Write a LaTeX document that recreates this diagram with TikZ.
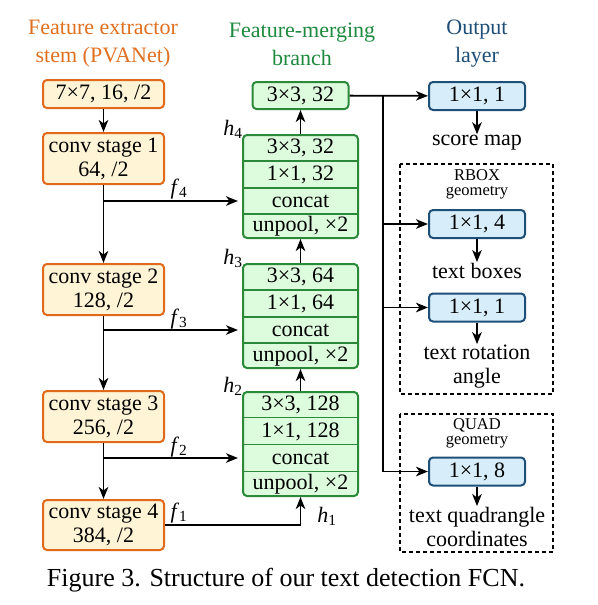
\documentclass[tikz,border=0pt]{standalone}
\usepackage{fontspec}
\setmainfont{Liberation Serif}
\usetikzlibrary{arrows.meta}
\definecolor{orbd}{HTML}{E0691B}
\definecolor{orfl}{HTML}{FFF5D6}
\definecolor{grbd}{HTML}{2A8A3A}
\definecolor{grfl}{HTML}{DDFBDD}
\definecolor{blbd}{HTML}{1E4F78}
\definecolor{blfl}{HTML}{D7EEFA}
\definecolor{orhd}{HTML}{E07020}
\definecolor{grhd}{HTML}{1E8A3E}
\definecolor{blhd}{HTML}{1F4E79}
\begin{document}
\begin{tikzpicture}[x=1pt,y=-1pt,
  every node/.style={font=\fontsize{22}{24}\selectfont, inner sep=0pt},
  stembox/.style={draw=orbd, fill=orfl, line width=2pt, rounded corners=4pt, minimum width=121pt, align=center},
  grstack/.style={draw=grbd, fill=grfl, line width=2pt, rounded corners=4pt, minimum width=115pt},
  grbox/.style={draw=grbd, fill=grfl, line width=2pt, rounded corners=4pt, minimum width=96pt, minimum height=27pt},
  outbox/.style={draw=blbd, fill=blfl, line width=2pt, rounded corners=4pt, minimum width=96pt, minimum height=28pt},
  divider/.style={draw=grbd, line width=1.5pt},
  conn/.style={line width=1.8pt, draw=black},
  arr/.style={conn, -{Stealth[length=12pt,width=9.5pt,inset=3.5pt]}},
  hdr/.style={align=center, font=\fontsize{22}{28}\selectfont},
  lbl/.style={font=\fontsize{22}{24}\selectfont},
  geo/.style={align=center, font=\fontsize{16.5}{15}\selectfont},
  dashbox/.style={draw=black, line width=1.2pt, dash pattern=on 4pt off 3pt},
  txt/.style={align=center, inner sep=1pt}
]
\useasboundingbox (0,0) rectangle (597,605);
\fill[white] (0,0) rectangle (597,605);

% headers
\node[hdr, text=orhd] (h1t) at (103,44) {Feature extractor\\stem (PVANet)};
\node[hdr, text=grhd] (h2t) at (302,44) {Feature-merging\\branch};
\node[hdr, text=blhd] (h3t) at (477,44) {Output\\layer};

% stem column
\node[stembox, minimum height=28pt] (b0) at (103.5,94) {7×7, 16, /2};
\node[stembox, minimum height=51pt] (b1) at (103.5,158.5) {conv stage 1\\64, /2};
\node[stembox, minimum height=51pt] (b2) at (103.5,289.5) {conv stage 2\\128, /2};
\node[stembox, minimum height=51pt] (b3) at (103.5,416.5) {conv stage 3\\256, /2};
\node[stembox, minimum height=50pt] (b4) at (103.5,525) {conv stage 4\\384, /2};

% merging branch
\node[grbox] (top) at (300.5,95.5) {3×3, 32};

\node[grstack, minimum height=103pt] (s4) at (300.5,186.5) {};
\draw[divider] (243,161) -- (358,161) (243,188) -- (358,188) (243,214) -- (358,214);
\node (r41) at (300.5,148) {3×3, 32};
\node (r42) at (300.5,175) {1×1, 32};
\node (r43) at (300.5,201) {concat};
\node (r44) at (300.5,226.5) {unpool, ×2};

\node[grstack, minimum height=104pt] (s3) at (300.5,316) {};
\draw[divider] (243,290) -- (358,290) (243,317) -- (358,317) (243,343) -- (358,343);
\node (r31) at (300.5,277) {3×3, 64};
\node (r32) at (300.5,304) {1×1, 64};
\node (r33) at (300.5,330) {concat};
\node (r34) at (300.5,356) {unpool, ×2};

\node[grstack, minimum height=104pt] (s2) at (300.5,444) {};
\draw[divider] (243,417.5) -- (358,417.5) (243,444.5) -- (358,444.5) (243,471.5) -- (358,471.5);
\node (r21) at (300.5,404.5) {3×3, 128};
\node (r22) at (300.5,431.5) {1×1, 128};
\node (r23) at (300.5,458) {concat};
\node (r24) at (300.5,484.5) {unpool, ×2};

% output layer
\node[outbox] (oA) at (477,96) {1×1, 1};
\node[outbox] (oB) at (477,224) {1×1, 4};
\node[outbox] (oC) at (477,307.5) {1×1, 1};
\node[outbox] (oD) at (477,471.5) {1×1, 8};

\node[txt] (tA) at (477,143) {score map};
\node[txt] (tB) at (477,271) {text boxes};
\node[txt] (tC) at (477,367) {text rotation\\angle};
\node[txt] (tD) at (477,527) {text quadrangle\\coordinates};

\draw[dashbox] (400,164) rectangle (553,394);
\draw[dashbox] (400,414) rectangle (553,552);
\node[geo] (gR) at (477,184) {RBOX\\geometry};
\node[geo] (gQ) at (477,433) {QUAD\\geometry};

% stem arrows
\draw[arr] (b0) -- (b1);
\draw[arr] (b1) -- (b2);
\draw[arr] (b2) -- (b3);
\draw[arr] (b3) -- (b4);

% lateral f connections
\draw[arr, shorten >=4pt] (b1.south |- r43) -- (r43 -| s4.west);
\draw[arr, shorten >=4pt] (b2.south |- r33) -- (r33 -| s3.west);
\draw[arr, shorten >=4pt] (b3.south |- r23) -- (r23 -| s2.west);
\draw[arr] (b4.east) -| (s2.south);

\node[lbl] (lf4) at (179,189) {\textit{f}\textsubscript{4}};
\node[lbl] (lf3) at (179,319) {\textit{f}\textsubscript{3}};
\node[lbl] (lf2) at (179,447) {\textit{f}\textsubscript{2}};
\node[lbl] (lf1) at (179,513) {\textit{f}\textsubscript{1}};

% upward merging arrows
\draw[arr] (s2) -- (s3);
\draw[arr] (s3) -- (s4);
\draw[arr] (s4) -- (top);

\node[lbl] (lh4) at (233,129) {\textit{h}\textsubscript{4}};
\node[lbl] (lh3) at (233,258) {\textit{h}\textsubscript{3}};
\node[lbl] (lh2) at (233,386) {\textit{h}\textsubscript{2}};
\node[lbl] (lh1) at (327,516) {\textit{h}\textsubscript{1}};

% to outputs
\coordinate (j0) at (383,95.5);
\draw[arr] (top) -- (oA);
\draw[conn] (j0) -- (j0 |- oC);
\draw[arr] (j0 |- oB) -- (oB);
\draw[arr] (j0 |- oC) -- (oC);
\draw[arr] (j0 |- oC) |- (oD);

\draw[arr] (oA) -- (tA);
\draw[arr] (oB) -- (tB);
\draw[arr] (oC) -- (tC);
\draw[arr] (oD) -- (tD);

% caption
\node[font=\fontsize{26}{30}\selectfont] (cap) at (286,580) {Figure 3. Structure of our text detection FCN.};
\end{tikzpicture}
\end{document}
